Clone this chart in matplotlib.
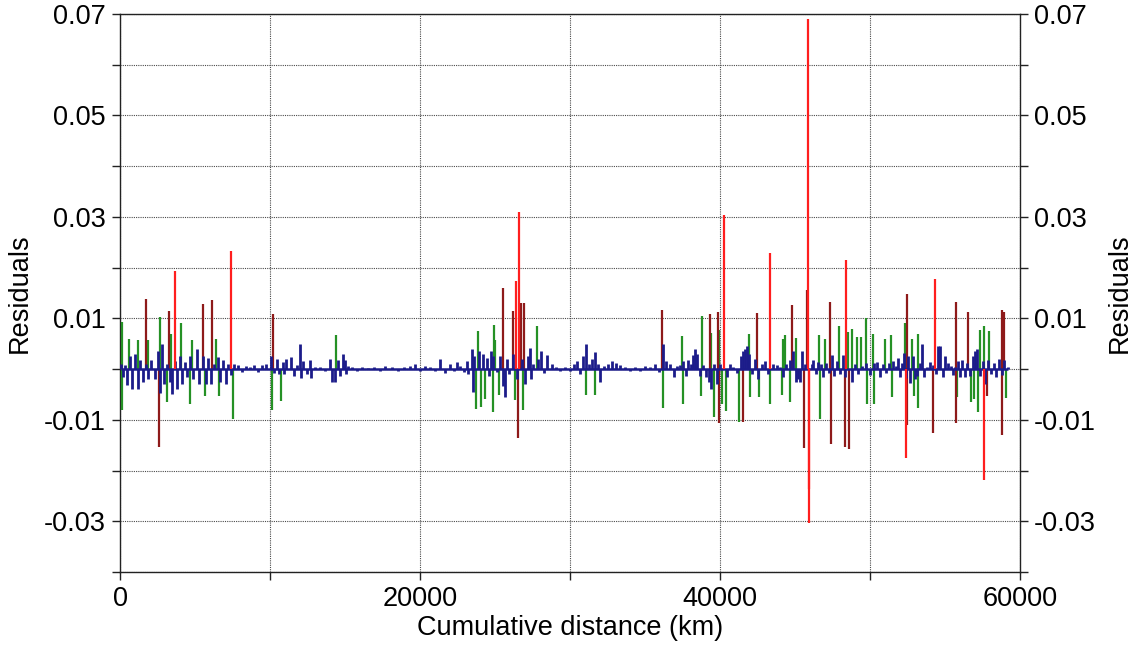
import matplotlib
matplotlib.use("Agg")
import matplotlib.pyplot as plt

plt.rcParams['font.family'] = ['Liberation Sans', 'DejaVu Sans']

# ---------------- data ----------------
blue_x = [70, 200, 330, 470, 670, 800, 1000, 1200, 1330, 1530, 1730, 1870, 2070, 2330, 2530, 2670, 2800, 2930,
          3130, 3330, 3470, 3670, 3800, 4000, 4130, 4330, 4470, 4670, 4870, 5130, 5270, 5530, 5730, 5870, 6070,
          6270, 6530, 6670, 6870, 7070, 7200, 7400, 7600, 7870, 8130, 8400, 8670, 8930, 9200, 9470, 9730,
          10070, 10270, 10470, 10600, 10870, 10930, 11070, 11400, 11600, 11800, 12000, 12070, 12200, 12470,
          12670, 12730, 13000, 13330, 13670, 14000, 14130, 14330, 14530, 14670, 14870, 15000, 15070, 15200,
          15470, 15800, 16130, 16530, 16930, 17330, 17670, 18130, 18530, 18930, 19330, 19670, 20000, 20330,
          20670, 21000, 21330, 21670, 22000, 22270, 22470, 22670, 22930, 23130, 23200, 23470, 23530, 23600,
          23930, 24200, 24470, 24600, 24730, 24870, 25130, 25330, 25530, 25670, 25800, 25930, 26200, 26470,
          26800, 27000, 27200, 27330, 27400, 27530, 27870, 28070, 28270, 28470, 28800, 29070, 29330, 29670,
          30000, 30270, 30470, 30670, 30870, 31070, 31270, 31470, 31670, 31870, 32000, 32270, 32530, 32800,
          33070, 33330, 33670, 34000, 34330, 34670, 35000, 35330, 35670, 35930, 36200, 36400, 36670, 36930,
          37130, 37330, 37530, 37730, 37870, 38070, 38200, 38330, 38470, 38670, 38870, 39070, 39270, 39400,
          39600, 39800, 40000, 40470, 40670, 40870, 41130, 41400, 41530, 41670, 41800, 41930, 42130, 42330,
          42530, 42800, 43000, 43200, 43530, 43800, 44000, 44200, 44400, 44670, 44870, 45070, 45200, 45330,
          45470, 45670, 46130, 46200, 46400, 46530, 46730, 46870, 47070, 47270, 47470, 47600, 47800, 48000,
          48200, 48330, 48800, 49000, 49200, 49470, 49730, 50000, 50270, 50470, 50670, 50870, 51070, 51270,
          51530, 51730, 51870, 52000, 52130, 52270, 52400, 52530, 52670, 52870, 53000, 53130, 53330, 53470,
          53600, 53800, 54000, 54200, 54400, 54530, 54670, 54870, 55000, 55200, 55400, 55530, 55670, 55870,
          56000, 56130, 56330, 56470, 56670, 56870, 57000, 57130, 57330, 57530, 57670, 57870, 58070, 58270,
          58400, 58600, 58800, 58930, 59200]
blue_y = [0.001, -0.0015, 0.0008, -0.0032, 0.0025, -0.004, 0.003, -0.004, 0.0017, -0.0025, 0.001, -0.002, 0.0017,
          -0.002, 0.0035, -0.0047, 0.005, -0.003, 0.001, -0.0025, -0.005, 0.0015, -0.004, 0.0025, -0.003, 0.0013,
          -0.0015, 0.0025, -0.002, 0.004, -0.003, 0.0025, -0.003, 0.0022, -0.003, 0.001, 0.0023, -0.0025, 0.0017,
          -0.003, 0.001, -0.0012, 0.001, 0.0008, -0.0005, 0.0007, 0.0005, 0.0009, -0.0006, 0.0008, 0.001,
          0.0025, -0.0008, 0.002, -0.001, 0.0013, -0.001, 0.002, 0.0023, -0.0013, 0.0008, 0.0049, -0.0017,
          0.0015, -0.001, 0.0017, -0.0018, 0.0005, 0.0005, -0.0004, 0.002, -0.0025, -0.0025, 0.0017, -0.0013,
          0.003, 0.0017, -0.001, 0.0007, 0.0005, -0.0003, 0.0004, 0.0003, 0.0005, -0.0003, 0.0007, 0.0004,
          -0.0003, 0.0005, 0.0007, 0.001, -0.0004, 0.0007, 0.0004, -0.0003, 0.002, -0.0008, 0.001, -0.0004,
          0.0013, 0.0006, -0.0005, 0.0015, -0.001, 0.004, -0.0045, 0.0025, 0.0035, 0.003, 0.0021, -0.0013,
          0.0035, 0.0025, -0.0005, 0.0025, -0.0033, -0.0055, 0.002, -0.001, 0.003, -0.002, 0.002, -0.003,
          0.0025, 0.0041, -0.002, 0.001, 0.002, 0.0035, -0.0008, 0.0027, 0.001, 0.0005, -0.0004, 0.0005,
          -0.0003, 0.001, 0.0015, -0.001, 0.0025, 0.005, 0.001, 0.002, 0.0034, 0.001, -0.0025, 0.0007, 0.001,
          0.0015, 0.0012, 0.0008, 0.0004, -0.0004, 0.0005, -0.0003, 0.0007, 0.0005, 0.001, -0.0006, 0.0049,
          0.0015, 0.001, -0.0015, 0.0007, 0.0009, 0.0015, -0.0013, 0.0017, 0.001, 0.0027, 0.004, 0.003,
          -0.0013, 0.0008, -0.0015, -0.0025, -0.004, 0.001, -0.003, 0.001, -0.0015, 0.001, 0.0005, -0.0008,
          0.0025, 0.0035, 0.004, 0.0045, 0.003, -0.001, 0.002, -0.002, 0.001, 0.0015, -0.001, 0.001, 0.0008,
          0.0005, -0.0015, 0.001, 0.0017, 0.0035, -0.0025, -0.002, -0.0025, 0.0035, 0.001, 0.001, 0.0017,
          -0.001, 0.0013, 0.001, -0.0015, 0.0012, -0.0008, 0.0027, -0.0013, 0.0015, -0.001, 0.0027, -0.0015,
          -0.0025, 0.001, -0.001, 0.0007, 0.0012, -0.0012, 0.0012, 0.0013, -0.0015, 0.001, -0.0008, 0.0012,
          0.0015, 0.0007, 0.0022, -0.0015, 0.0012, 0.0032, -0.0018, 0.0026, -0.0027, 0.0025, -0.002, -0.0013,
          0.0012, 0.005, -0.0015, 0.0005, 0.0013, 0.0008, -0.001, 0.0045, 0.0045, -0.0015, 0.0025, 0.0012,
          0.0007, -0.0012, 0.0005, 0.0015, -0.0015, 0.0017, -0.0015, 0.0012, -0.0013, 0.0025, 0.0035, 0.004,
          -0.0013, 0.0015, -0.003, 0.0017, -0.001, 0.0012, -0.0015, 0.002, -0.0012, 0.0017, 0.0005]

green_x = [100, 150, 600, 1200, 1870, 2670, 3130, 3380, 4070, 4670, 4800, 5670, 6400, 6600, 7510,
           10110, 10730, 14380, 23730, 23840, 24050, 24330, 24870, 24930, 25000, 25270, 26310, 26850, 27780,
           31070, 31670, 36200, 37490, 37550, 38700, 38780, 39420, 39620, 39950, 40130, 40380, 41290, 41950,
           42000, 42630, 43330, 44150, 44180, 44330, 44670, 45070, 46620, 46680, 47000, 47910, 48530, 48800,
           49110, 49400, 49730, 49820, 50220, 50270, 51000, 51400, 51450, 52330, 52780, 52930, 53180, 53230,
           55800, 56720, 56930, 57180, 57330, 57600, 57950, 59070]
green_y = [0.0093, -0.0081, 0.006, 0.0057, 0.0057, 0.0103, -0.0064, 0.0069, 0.009, -0.0068, 0.0057, -0.0053,
           0.006, -0.0053, -0.0099, -0.0081, -0.0063, 0.0068, -0.0079, 0.0076, -0.0074, -0.0058, -0.0084, 0.0087,
           0.0057, -0.0051, -0.0061, -0.0081, 0.0084, -0.0051, -0.0051, -0.0076, 0.0066, -0.0069, -0.0053, 0.0105,
           0.0072, -0.0094, 0.0078, -0.0068, -0.0082, -0.0104, 0.007, -0.0055, -0.0055, -0.0069, -0.0051, 0.0059,
           0.0067, -0.0064, 0.0062, 0.0067, -0.0098, 0.006, 0.0084, 0.0074, 0.008, 0.0064, 0.0064, 0.01, -0.0068,
           0.0069, -0.0068, 0.0059, 0.0067, -0.0055, 0.009, 0.006, -0.0053, 0.007, -0.0076, -0.0055, -0.0064,
           -0.0058, -0.0084, 0.0077, 0.0084, 0.0075, -0.0057]

darkred_x = [1730, 2600, 3290, 5510, 6150, 10220, 25550, 26180, 26510, 26710, 26950, 36150, 39330, 39840,
             39930, 41510, 42440, 44780, 45620, 45780, 47330, 47380, 48330, 48620, 52440, 52480, 54220, 55730,
             55760, 56560, 57820, 58780, 58800, 58930]
darkred_y = [0.0138, -0.0153, 0.0115, 0.0128, 0.0136, 0.0109, 0.0159, 0.0114, -0.0135, 0.013, 0.013, 0.0116,
             0.0109, 0.0113, -0.0106, -0.0105, 0.0111, 0.0126, -0.0155, 0.0155, 0.0133, -0.0148, -0.0153,
             -0.0157, 0.0148, -0.011, -0.0125, 0.0133, -0.0107, 0.0113, -0.0053, 0.0116, -0.013, 0.0113]

red_x = [3670, 7380, 26400, 26600, 40290, 43330, 45890, 45900, 45960, 48400, 52400, 54330, 57600]
red_y = [0.0194, 0.0232, 0.0174, 0.031, 0.0304, 0.0228, 0.069, -0.0303, -0.0236, 0.0215, -0.0176, 0.0177, -0.0218]

y_ticks = [-0.04, -0.03, -0.02, -0.01, 0.0, 0.01, 0.02, 0.03, 0.04, 0.05, 0.06, 0.07]
y_labels = ['', '-0.03', '', '-0.01', '', '0.01', '', '0.03', '', '0.05', '', '0.07']
x_ticks = [0, 10000, 20000, 30000, 40000, 50000, 60000]
x_labels = ['0', '', '20000', '', '40000', '', '60000']

# ---------------- plot ----------------
fig = plt.figure(figsize=(11.36, 6.45), dpi=100)
ax = fig.add_axes([120 / 1136, 1 - 572 / 645, 900 / 1136, (572 - 14) / 645])

c_blue = '#1c1c8a'
c_green = '#259125'
c_dred = '#8e1a1a'
c_red = '#ff1e1e'

ax.vlines(green_x, 0, green_y, color=c_green, lw=1.6, zorder=3)
ax.vlines(darkred_x, 0, darkred_y, color=c_dred, lw=1.6, zorder=3)
ax.hlines(0, blue_x[0], blue_x[-1], color=c_blue, lw=1.8, zorder=4)
ax.vlines(blue_x, 0, blue_y, color=c_blue, lw=2.0, zorder=4)
ax.vlines(red_x, 0, red_y, color=c_red, lw=1.6, zorder=5)

ax.set_xlim(0, 60000)
ax.set_ylim(-0.04, 0.07)
ax.set_xticks(x_ticks, x_labels)
ax.set_yticks(y_ticks, y_labels)
ax.grid(True, color='#4a4a4a', linestyle=(0, (1, 1)), lw=0.8)
ax.set_axisbelow(True)

for s in ax.spines.values():
    s.set_color('#222222')
    s.set_linewidth(1.0)

ax.tick_params(axis='both', direction='out', length=6, width=1.0, labelsize=19.5, pad=4, color='#222222')
ax.set_xlabel('Cumulative distance (km)', fontsize=19.5, labelpad=2)
ax.set_ylabel('Residuals', fontsize=19.5, labelpad=8)

ax2 = ax.twinx()
ax2.set_ylim(-0.04, 0.07)
ax2.set_yticks(y_ticks, y_labels)
ax2.tick_params(axis='y', direction='out', length=6, width=1.0, labelsize=19.5, pad=4, color='#222222')
ax2.set_ylabel('Residuals', fontsize=19.5, labelpad=8)
for s in ax2.spines.values():
    s.set_visible(False)

fig.savefig('out.png', dpi=100)
